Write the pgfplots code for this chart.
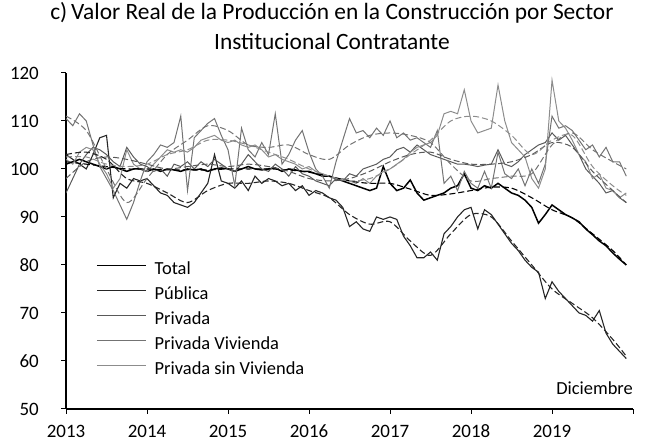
\documentclass[border=0pt]{standalone}
\usepackage{fontspec}
\setmainfont{Carlito}
\usepackage{pgfplots}
\pgfplotsset{compat=1.18}
\usepackage{pgfplotstable}

\pgfplotstableread{
m total pub X Y Z
0 101 103 110.5 102 95
1 101.5 102 109 101 98
2 102 101 111.5 103.5 101
3 101.5 100 110 104.5 103
4 101 103 105 104 104.5
5 100.5 106.5 100.5 101 104
6 100 107 98 99 103
7 100.5 94 95.5 96 101.5
8 100 97 92.5 98 100.5
9 99.5 96 89.5 104 104.5
10 100 98 93 101 102.5
11 100 97.5 97.5 100 101
12 99.5 98 101.5 99.5 100.5
13 100 96.5 103 101 99.5
14 99.5 95 105 102.5 100
15 100 94.5 104.5 104 98.5
16 99.8 93 105.5 103.5 101
17 99.5 92.5 111 104 100.5
18 100 92 95.5 103.5 101.5
19 99.8 93 106.5 104.5 100
20 100 95 108 106 101.5
21 99.5 97 109.5 106.5 100.5
22 100 103 110.5 107 102
23 100.2 97.5 107 106 101
24 100 97 104 105.5 100
25 99.5 96 96.5 106 99.5
26 100 97.5 108.5 105 101
27 100.5 95.5 104 104.5 103
28 100 98.5 102.5 105 101.5
29 99.8 97 105.5 104 100
30 100 98 103 102.5 99.5
31 100.2 97.5 111.5 103 101
32 99.5 96.5 101 102 100
33 100 97 103 101.5 98.5
34 99.8 95.5 106 101 100.5
35 99.5 96.5 108 100 99
36 99.5 94.5 103.5 100.5 98.5
37 99 95.5 100 99.5 97.5
38 98.5 95 98.5 99 97
39 98.5 94 96 98.5 96.5
40 98 93.5 101.5 98 98
41 97.5 92 106 98 97.5
42 97 88 110.5 97.5 99
43 96.5 89 107.5 97 98.5
44 96 87.5 108 98 100
45 95.5 87 106.5 97 100.5
46 96 90 108.5 98.5 101
47 100.5 89.5 107 99.5 102
48 97 90 110 100 102.5
49 95.5 89.5 106.5 101 104
50 96 86 107.5 102 104.5
51 97.7 84 106 103.5 103.5
52 95 81.5 106.5 104.5 105
53 93.5 81.5 105.5 105 104
54 94 82.7 104.5 105.5 103
55 94.5 81 108 107 102.5
56 95 86.5 97 111.5 102
57 96 88 98.5 112 101.5
58 96.5 90 95.5 111.5 101
59 99 91.5 99.5 116.5 101
60 96 92 97 110 100.8
61 95.5 87.5 96 107.5 100.5
62 96.5 91.5 99.5 108 100.8
63 96 90.5 96 108.5 101
64 97 88.5 103.5 117.5 104
65 96 86.5 99 110 101
66 95 84.5 98 105.5 100.5
67 94.5 83 100 104 101.5
68 93.5 81 96.5 102.5 103
69 92 79.5 100 98 104
70 88.7 78.5 97 96 105
71 90.5 73 101 100 105.5
72 92.5 76.5 111 118.5 107.5
73 91.5 74.5 108.5 110 106
74 90.5 73 109 108.5 107
75 89.8 71.5 108 106 105
76 89 70 106 103 103
77 87.5 69.5 104 101.5 100
78 86.3 68.3 105 98 98.5
79 85 70.5 102.5 99 97
80 84 65.8 104.5 96 95
81 82.5 63.5 101.5 95.5 95.5
82 81.2 62 101.5 94 94
83 80 60.5 98.5 95 93
}\data

\pgfplotstableread{
m ttot tpub tX tY tZ
0 101.5 103 111 102.5 98
3 101 103.5 108 102.5 101.5
6 100.5 102 100 101 102.5
9 100 98 93 100.5 102
12 100 97 98 101 101
15 99.8 95 103 103 100
18 99.8 93 106 104 100.5
21 99.8 95.5 109 106 101
24 100 97 108 106 100.5
27 100 97 105 105 101
30 100 97.5 104.5 103.5 100.5
33 99.8 97 105 102 99.5
36 99.3 95.5 103 100 98
39 98.5 94 102 98.5 97.5
42 97.5 90.5 105 97.5 98
45 97 88.5 107 98 99.5
48 97 89 107.5 100 101.5
51 95.8 85 107 103 103
54 94.5 82 105.5 106 103.5
57 94.8 86.5 101 110 102
60 95.5 90.5 97.5 111 101
63 96.2 90 98 110 101
66 96 85 98.5 107 101.5
69 94 80 99 103 103
72 91.5 75 105 106 105.5
75 89.8 72 107.5 107 104.5
78 86.5 69 104 100.5 99.5
81 83 64.5 101.5 96.5 95.5
83 80 61 100 94.5 93
}\trend

\begin{document}
\begin{tikzpicture}
\begin{axis}[
  scale only axis, width=567bp, height=336bp,
  xmin=0, xmax=84, ymin=50, ymax=120,
  axis lines=left, axis line style={-, line width=1.1pt},
  xtick={0,12,...,84}, xticklabels={2013,2014,2015,2016,2017,2018,2019,{}},
  ytick={50,60,...,120},
  tick align=outside, major tick length=5bp, tick style={line width=1pt, black},
  tick label style={font=\fontsize{19}{22}\selectfont},
  /pgf/number format/assume math mode=true,
  yticklabel style={inner sep=0pt, anchor=east, xshift=-22bp},
  xticklabel style={inner sep=0pt, anchor=north, yshift=-11bp, text height=12.5bp, text depth=0pt},
  clip mode=individual,
  title={c)\,Valor Real de la Producción en la Construcción por Sector\\Institucional Contratante},
  title style={at={(0.469,1.122)}, anchor=center, align=center, font=\fontsize{23.5}{30}\selectfont, inner sep=0pt},
  legend style={draw=none, fill=none, at={(0.0476,0.443)}, anchor=north west,
    font=\fontsize{18.5}{21}\selectfont, row sep=9bp,
    nodes={inner sep=0pt, text height=12bp, text depth=4bp},
    /tikz/every odd column/.append style={column sep=8bp}},
  legend cell align=left,
  legend image code/.code={\draw[#1] (0bp,5bp) -- (49bp,5bp);},
]
\addplot[black, line width=1.5pt] table[x=m,y=total]{\data};
\addlegendentry{Total}
\addplot[black!85, line width=1.1pt] table[x=m,y=pub]{\data};
\addlegendentry{Pública}
\addplot[black!65, line width=1pt] table[x=m,y=Z]{\data};
\addlegendentry{Privada}
\addplot[black!55, line width=1pt] table[x=m,y=X]{\data};
\addlegendentry{Privada Vivienda}
\addplot[black!45, line width=1pt] table[x=m,y=Y]{\data};
\addlegendentry{Privada sin Vivienda}

\addplot[forget plot, black, line width=1.1pt, dash pattern=on 6bp off 3bp, smooth] table[x=m,y=ttot]{\trend};
\addplot[forget plot, black!85, line width=1.1pt, dash pattern=on 6bp off 3bp, smooth] table[x=m,y=tpub]{\trend};
\addplot[forget plot, black!65, line width=1pt, dash pattern=on 6bp off 3bp, smooth] table[x=m,y=tZ]{\trend};
\addplot[forget plot, black!55, line width=1pt, dash pattern=on 6bp off 3bp, smooth] table[x=m,y=tX]{\trend};
\addplot[forget plot, black!45, line width=1pt, dash pattern=on 6bp off 3bp, smooth] table[x=m,y=tY]{\trend};

\node[anchor=east, inner sep=0pt, font=\fontsize{18.5}{21}\selectfont] at (rel axis cs:1,0.0625) {Diciembre};
\coordinate (BL) at (axis cs:-9.78,43.33);
\coordinate (TR) at (axis cs:86.07,135.2);
\end{axis}
\pgfresetboundingbox
\path[use as bounding box] (BL) rectangle (TR);
\end{tikzpicture}
\end{document}
